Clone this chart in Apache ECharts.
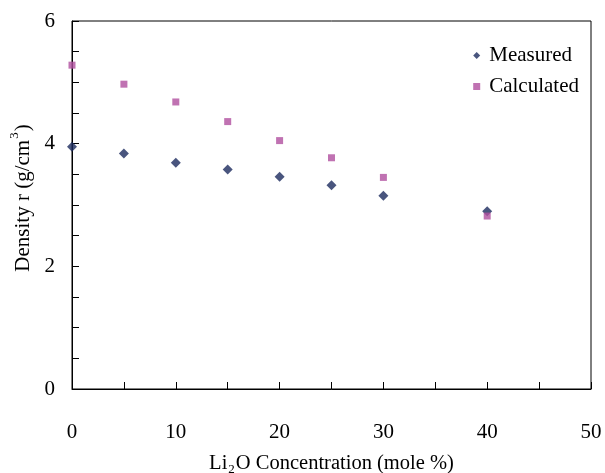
<!DOCTYPE html>
<html><head><meta charset="utf-8">
<script src="https://cdn.jsdelivr.net/npm/echarts@6/dist/echarts.min.js"></script>
<style>html,body{margin:0;padding:0;background:#fff}#c{width:605px;height:473px}</style>
</head><body><div id="c"></div>
<script>
const concentration = [0, 5, 10, 15, 20, 25, 30, 40];
const measured = [3.95, 3.84, 3.69, 3.58, 3.46, 3.32, 3.15, 2.90];
const calculated = [5.28, 4.97, 4.68, 4.36, 4.05, 3.77, 3.45, 2.82];
const xTickLabels = ['0', '10', '20', '30', '40', '50'];
const yTickLabels = ['0', '2', '4', '6'];

const font = 'Liberation Serif';
const chart = echarts.init(document.getElementById('c'));
chart.setOption({
  animation: false,
  backgroundColor: '#fff',
  grid: { left: 72, top: 21, right: 14, bottom: 84, show: true, borderColor: '#000', borderWidth: 1,
    outerBoundsMode: 'none', containLabel: false },
  legend: {
    right: 21, top: 40, orient: 'vertical', itemGap: 10, itemWidth: 7, itemHeight: 7,
    textStyle: { fontFamily: font, fontSize: 21, color: '#000', padding: [0, 0, 0, 4] },
    data: [{ name: 'Measured', icon: 'diamond' }, { name: 'Calculated', icon: 'rect' }]
  },
  xAxis: {
    type: 'value', min: 0, max: 50, interval: 5,
    axisLine: { lineStyle: { color: '#000', width: 1 } },
    axisTick: { inside: true, length: 7, lineStyle: { color: '#000' } },
    splitLine: { show: false },
    axisLabel: { margin: 33, fontFamily: font, fontSize: 21, color: '#000',
      formatter: v => xTickLabels.includes(String(v)) ? String(v) : '' },
    name: '{n|Li}{s|2}{n|O Concentration (mole %)}',
    nameLocation: 'middle', nameGap: 64,
    nameTextStyle: { rich: { n: { fontFamily: font, fontSize: 20.5, color: '#000' },
      s: { fontFamily: font, fontSize: 13, color: '#000', verticalAlign: 'bottom', padding: [0,1,-2,1] } } }
  },
  yAxis: {
    type: 'value', min: 0, max: 6, interval: 0.5,
    axisLine: { lineStyle: { color: '#000', width: 1 } },
    axisTick: { inside: true, length: 7, lineStyle: { color: '#000' } },
    splitLine: { show: false },
    axisLabel: { margin: 17, fontFamily: font, fontSize: 21, color: '#000',
      formatter: v => yTickLabels.includes(String(v)) ? String(v) : '' },
    name: '{n|Density r (g/cm}{s|3}{n|)}',
    nameLocation: 'middle', nameGap: 37,
    nameTextStyle: { padding: [0, 0, 0, 14], rich: { n: { fontFamily: font, fontSize: 21, color: '#000' },
      s: { fontFamily: font, fontSize: 13, color: '#000', verticalAlign: 'top', padding: [-5,1,0,1] } } }
  },
  series: [
    { name: 'Measured', type: 'scatter', symbol: 'diamond', symbolSize: 10,
      itemStyle: { color: '#1b2a5e' }, data: concentration.map((x, i) => [x, measured[i]]) },
    { name: 'Calculated', type: 'scatter', symbol: 'rect', symbolSize: 7,
      itemStyle: { color: '#b04f9f' }, data: concentration.map((x, i) => [x, calculated[i]]) }
  ]
});
</script></body></html>
